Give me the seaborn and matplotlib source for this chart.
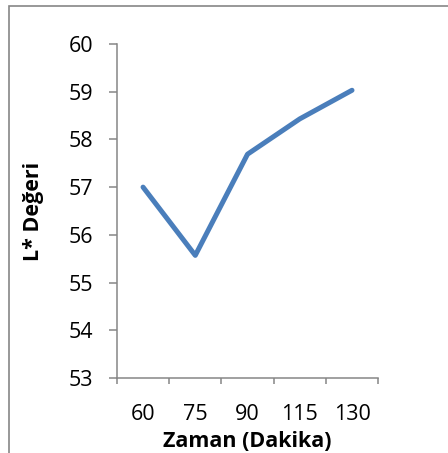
import numpy as np
import pandas as pd
import matplotlib.pyplot as plt
from matplotlib.patches import Rectangle
import seaborn as sns

zaman = ['60', '75', '90', '115', '130']
l_degeri = [57.0, 55.57, 57.69, 58.43, 59.03]
y_ticks = [53, 54, 55, 56, 57, 58, 59, 60]

df = pd.DataFrame({'pos': np.arange(len(zaman)), 'L': l_degeri})

sns.set_style('white')
plt.rcParams['font.family'] = ['Open Sans', 'DejaVu Sans']

gri = '#868686'

fig = plt.figure(figsize=(4.48, 4.53), dpi=100)
ax = fig.add_axes([0.261, 0.1656, 0.583, 0.7373])

sns.lineplot(data=df, x='pos', y='L', color='#4A7EBB', linewidth=3.6, ax=ax,
             solid_capstyle='round', solid_joinstyle='round')

ax.set_ylim(53, 60)
ax.set_xlim(-0.5, len(zaman) - 0.5)
ax.set_yticks(y_ticks)
ax.set_yticklabels([str(v) for v in y_ticks])

# tick'ler kategori sınırlarında, etiketler ortada
ax.set_xticks(np.arange(-0.5, len(zaman), 1))
ax.set_xticklabels([''] * (len(zaman) + 1))
ax.set_xticks(np.arange(len(zaman)), minor=True)
ax.set_xticklabels(zaman, minor=True)

ax.tick_params(axis='x', which='major', length=4.3, width=1.1, color=gri, direction='out', bottom=True)
ax.tick_params(axis='x', which='minor', length=0, pad=18.5, labelsize=15.5, labelcolor='black')
ax.tick_params(axis='y', length=5.8, width=1.1, color=gri, direction='out', left=True,
               pad=11, labelsize=15.5, labelcolor='black')

for s in ['top', 'right']:
    ax.spines[s].set_visible(False)
for s in ['left', 'bottom']:
    ax.spines[s].set_color(gri)
    ax.spines[s].set_linewidth(1.1)

ax.set_xlabel('Zaman (Dakika)', fontsize=15.5, fontweight='bold', labelpad=4.5, color='black')
ax.set_ylabel('L* Değeri', fontsize=15.5, fontweight='bold', labelpad=18, color='black')

# grafik alanı çerçevesi
fig.patches.append(Rectangle((9 / 448, -0.2), 1.2, 1.2 - 6 / 453, transform=fig.transFigure,
                             fill=False, edgecolor=gri, linewidth=1.2, clip_on=False))

fig.savefig('out.png', dpi=100)
